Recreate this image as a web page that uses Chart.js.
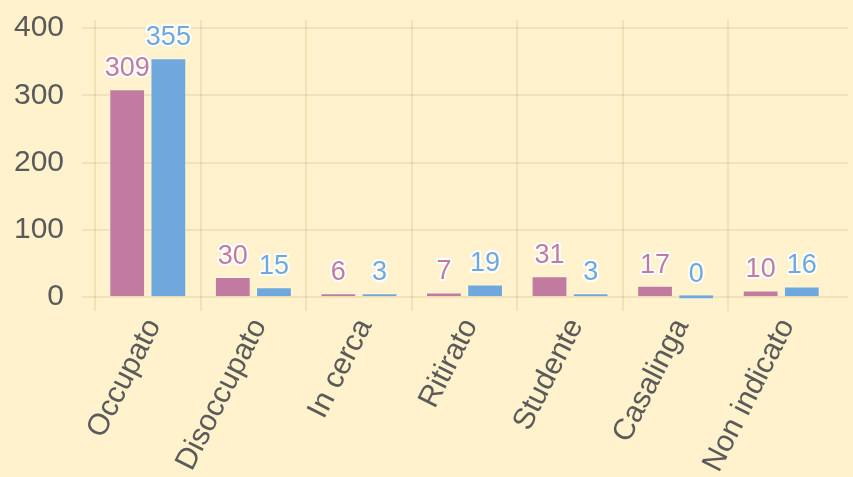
<!DOCTYPE html>
<html>
<head>
<meta charset="utf-8">
<script src="https://cdn.jsdelivr.net/npm/chart.js@4"></script>
<style>
html,body{margin:0;padding:0;background:#FFF2CC;}
#wrap{width:853px;height:477px;}
</style>
</head>
<body>
<div id="wrap"><canvas id="c" width="853" height="477"></canvas></div>
<script>
const categories = ['Occupato','Disoccupato','In cerca','Ritirato','Studente','Casalinga','Non indicato'];
const seriesA = [309, 30, 6, 7, 31, 17, 10];
const seriesB = [355, 15, 3, 19, 3, 0, 16];
const yTicks = [0, 100, 200, 300, 400];

const PINK = '#C27BA0', BLUE = '#6FA8DC', BG = '#FFF2CC';
const GRID = 'rgba(170,140,80,0.16)';
const TXT = '#5a5a5a';
const FONT = 'Arial, "Liberation Sans", sans-serif';

const bgPlugin = {
  id: 'bg',
  beforeDraw(chart) {
    const c = chart.ctx;
    c.save(); c.fillStyle = BG; c.fillRect(0, 0, chart.width, chart.height); c.restore();
  }
};
const labelPlugin = {
  id: 'vlabels',
  afterDatasetsDraw(chart) {
    const c = chart.ctx;
    c.save();
    c.font = '27px ' + FONT;
    c.textAlign = 'center';
    c.textBaseline = 'bottom';
    c.lineJoin = 'round';
    chart.data.datasets.forEach((ds, di) => {
      const meta = chart.getDatasetMeta(di);
      meta.data.forEach((el, i) => {
        const v = ds.data[i];
        const y = Math.min(el.y, el.base) - 7;
        c.lineWidth = 4; c.strokeStyle = '#ffffff';
        c.strokeText(String(v), el.x, y);
        c.fillStyle = ds.labelColor;
        c.fillText(String(v), el.x, y);
      });
    });
    c.restore();
  }
};

const yCommon = {
  type: 'linear', min: -16, max: 412,
  afterBuildTicks: s => { s.ticks = yTicks.map(v => ({value: v})); }
};

new Chart(document.getElementById('c'), {
  type: 'bar',
  data: {
    labels: categories,
    datasets: [
      {label: 'A', data: seriesA, backgroundColor: PINK, labelColor: PINK, borderColor: 'rgba(255,255,255,0.35)', borderWidth: 1, minBarLength: 4},
      {label: 'B', data: seriesB, backgroundColor: BLUE, labelColor: BLUE, borderColor: 'rgba(255,255,255,0.35)', borderWidth: 1, minBarLength: 4}
    ]
  },
  options: {
    responsive: false,
    animation: false,
    devicePixelRatio: 1,
    layout: {padding: {top: 20, right: 5, bottom: 0, left: 0}},
    datasets: {bar: {barPercentage: 0.87, categoryPercentage: 0.78}},
    plugins: {legend: {display: false}, tooltip: {enabled: false}},
    scales: {
      x: {
        offset: true,
        grid: {offset: true, color: ctx => ctx.index === undefined ? 'transparent' : GRID, lineWidth: 2, tickLength: 3, drawTicks: true},
        border: {display: false},
        ticks: {color: TXT, font: {size: 30, family: FONT}, minRotation: 63, maxRotation: 63, padding: 2, labelOffset: 6, autoSkip: false},
        afterFit: s => { s.height = 169; s.paddingLeft = 0; s.paddingRight = 0; }
      },
      y: Object.assign({}, yCommon, {
        position: 'left',
        grid: {color: GRID, lineWidth: 2, tickLength: 13},
        border: {display: false},
        ticks: {color: TXT, font: {size: 30, family: FONT}, padding: 18},
        afterFit: s => { s.width = 95; s.paddingTop = 0; s.paddingBottom = 0; }
      }),
      y2: Object.assign({}, yCommon, {
        position: 'right',
        grid: {drawOnChartArea: false, color: GRID, lineWidth: 2, tickLength: 14},
        border: {display: false},
        ticks: {display: false},
        afterFit: s => { s.paddingTop = 0; s.paddingBottom = 0; }
      })
    }
  },
  plugins: [bgPlugin, labelPlugin]
});
</script>
</body>
</html>
